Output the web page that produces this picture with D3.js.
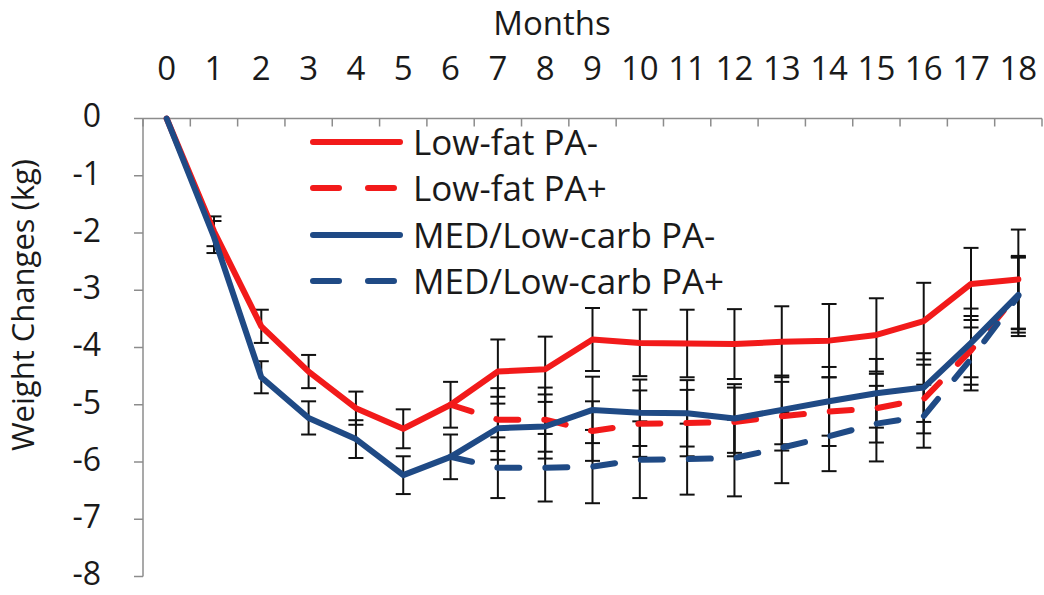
<!DOCTYPE html>
<html>
<head>
<meta charset="utf-8">
<script src="https://cdn.jsdelivr.net/npm/d3@7"></script>
<style>
  html, body { margin: 0; padding: 0; background: #fff; }
  svg { display: block; }
  text { font-family: "Open Sans", sans-serif; fill: #1a1a1a; }
</style>
</head>
<body>
<svg id="chart" width="1044" height="595"></svg>
<script>
// ---- Data ----
const months = [0,1,2,3,4,5,6,7,8,9,10,11,12,13,14,15,16,17,18];
const yTicks = [0,-1,-2,-3,-4,-5,-6,-7,-8];

const lowFatPAminus    = [0,-1.97,-3.63,-4.42,-5.06,-5.42,-5.00,-4.42,-4.38,-3.86,-3.92,-3.93,-3.94,-3.90,-3.88,-3.78,-3.54,-2.89,-2.81];
const lowFatPAminusErr = [null,0.26,0.29,0.29,0.29,0.34,0.40,0.56,0.57,0.55,0.58,0.59,0.61,0.62,0.64,0.64,0.67,0.63,0.87];

const lowFatPAplus     = [null,null,null,null,null,null,-5.00,-5.26,-5.26,-5.46,-5.33,-5.32,-5.30,-5.20,-5.12,-5.06,-4.90,-4.05,-3.05];
const lowFatPAplusErr  = [null,null,null,null,null,null,null,0.55,0.56,0.52,0.58,0.58,0.60,0.60,0.60,0.60,0.60,0.60,0.62];

const medPAminus       = [0,-2.07,-4.52,-5.23,-5.60,-6.23,-5.91,-5.41,-5.38,-5.09,-5.14,-5.15,-5.24,-5.09,-4.94,-4.80,-4.70,-3.92,-3.08];
const medPAminusErr    = [null,0.28,0.28,0.29,0.33,0.33,0.39,0.55,0.56,0.58,0.58,0.58,0.60,0.60,0.60,0.60,0.60,0.60,0.66];

const medPAplus        = [null,null,null,null,null,null,-5.91,-6.10,-6.10,-6.08,-5.96,-5.95,-5.93,-5.75,-5.55,-5.33,-5.20,-4.20,-3.10];
const medPAplusErr     = [null,null,null,null,null,null,null,0.53,0.59,0.64,0.67,0.62,0.67,0.62,0.61,0.66,0.55,0.55,0.70];

const seriesNames = ["Low-fat PA-","Low-fat PA+","MED/Low-carb PA-","MED/Low-carb PA+"];
const seriesColors = ["#f21a1a","#f21a1a","#1f4a85","#1f4a85"];
const seriesDashed = [false,true,false,true];

const series = [
  {name: seriesNames[0], values: lowFatPAminus, err: lowFatPAminusErr, color: seriesColors[0], dashed: seriesDashed[0]},
  {name: seriesNames[1], values: lowFatPAplus,  err: lowFatPAplusErr,  color: seriesColors[1], dashed: seriesDashed[1]},
  {name: seriesNames[2], values: medPAminus,    err: medPAminusErr,    color: seriesColors[2], dashed: seriesDashed[2]},
  {name: seriesNames[3], values: medPAplus,     err: medPAplusErr,     color: seriesColors[3], dashed: seriesDashed[3]}
];

// ---- Layout ----
const plotLeft = 143, plotRight = 1042, plotTop = 118.5, plotBottom = 576.5;
const svg = d3.select("#chart");

const x = d3.scaleBand().domain(months).range([plotLeft, plotRight]).padding(0);
const xc = m => x(m) + x.bandwidth() / 2;
const y = d3.scaleLinear().domain([0, -8]).range([plotTop, plotBottom]);

const axisColor = "#8c8c8c";

// Top (category) axis
const gx = svg.append("g");
gx.append("line")
  .attr("x1", plotLeft).attr("x2", plotRight)
  .attr("y1", y(0)).attr("y2", y(0))
  .attr("stroke", axisColor).attr("stroke-width", 1.5);
const edges = months.map(m => x(m)).concat([x(months[months.length-1]) + x.bandwidth()]);
gx.selectAll("line.tick").data(edges).enter().append("line")
  .attr("class","tick")
  .attr("x1", d => d).attr("x2", d => d)
  .attr("y1", y(0)).attr("y2", y(0) + 8)
  .attr("stroke", axisColor).attr("stroke-width", 1.5);
gx.selectAll("text.lab").data(months).enter().append("text")
  .attr("class","lab")
  .attr("x", d => xc(d)).attr("y", 80)
  .attr("text-anchor","middle")
  .attr("font-size", 33)
  .text(d => d);
svg.append("text")
  .attr("x", 552).attr("y", 35)
  .attr("text-anchor","middle")
  .attr("font-size", 33)
  .text("Months");

// Left axis
const gy = svg.append("g");
gy.append("line")
  .attr("x1", plotLeft).attr("x2", plotLeft)
  .attr("y1", y(0)).attr("y2", y(-8))
  .attr("stroke", axisColor).attr("stroke-width", 1.5);
gy.selectAll("line.tick").data(yTicks).enter().append("line")
  .attr("class","tick")
  .attr("x1", plotLeft - 9).attr("x2", plotLeft)
  .attr("y1", d => y(d)).attr("y2", d => y(d))
  .attr("stroke", axisColor).attr("stroke-width", 1.5);
gy.selectAll("text").data(yTicks).enter().append("text")
  .attr("x", 101).attr("y", d => y(d))
  .attr("dy","0.28em")
  .attr("text-anchor","end")
  .attr("font-size", 32)
  .text(d => d === 0 ? "0" : "-" + Math.abs(d));
svg.append("text")
  .attr("transform", "translate(34,305) rotate(-90)")
  .attr("text-anchor","middle")
  .attr("font-size", 31)
  .text("Weight Changes (kg)");

// Error bars (drawn below lines)
const capHalf = 7.5;
const gErr = svg.append("g");
series.forEach(s => {
  const pts = months.map((m,i) => ({m, v: s.values[i], e: s.err[i]}))
    .filter(p => p.v != null && p.e != null);
  const g = gErr.append("g");
  g.selectAll("line.v").data(pts).enter().append("line")
    .attr("x1", p => xc(p.m)).attr("x2", p => xc(p.m))
    .attr("y1", p => y(p.v + p.e)).attr("y2", p => y(p.v - p.e))
    .attr("stroke","#111").attr("stroke-width",2);
  g.selectAll("line.t").data(pts).enter().append("line")
    .attr("x1", p => xc(p.m) - capHalf).attr("x2", p => xc(p.m) + capHalf)
    .attr("y1", p => y(p.v + p.e)).attr("y2", p => y(p.v + p.e))
    .attr("stroke","#111").attr("stroke-width",2);
  g.selectAll("line.b").data(pts).enter().append("line")
    .attr("x1", p => xc(p.m) - capHalf).attr("x2", p => xc(p.m) + capHalf)
    .attr("y1", p => y(p.v - p.e)).attr("y2", p => y(p.v - p.e))
    .attr("stroke","#111").attr("stroke-width",2);
});

// Lines
const line = d3.line()
  .defined(d => d.v != null)
  .x(d => xc(d.m)).y(d => y(d.v));
series.forEach(s => {
  const pts = months.map((m,i) => ({m, v: s.values[i]}));
  svg.append("path")
    .datum(pts)
    .attr("d", line)
    .attr("fill","none")
    .attr("stroke", s.color)
    .attr("stroke-width", 6)
    .attr("stroke-linejoin","round")
    .attr("stroke-linecap","round")
    .attr("stroke-dasharray", s.dashed ? "22,26" : null);
});

// Legend
const legendRows = [142, 188, 235, 281];
const gl = svg.append("g");
series.forEach((s, i) => {
  gl.append("line")
    .attr("x1", 313).attr("x2", 400)
    .attr("y1", legendRows[i]).attr("y2", legendRows[i])
    .attr("stroke", s.color).attr("stroke-width", 6)
    .attr("stroke-linecap","round")
    .attr("stroke-dasharray", s.dashed ? "26,29" : null);
  gl.append("text")
    .attr("x", 413).attr("y", legendRows[i])
    .attr("dy","0.36em")
    .attr("font-size", 35)
    .text(s.name);
});
</script>
</body>
</html>
